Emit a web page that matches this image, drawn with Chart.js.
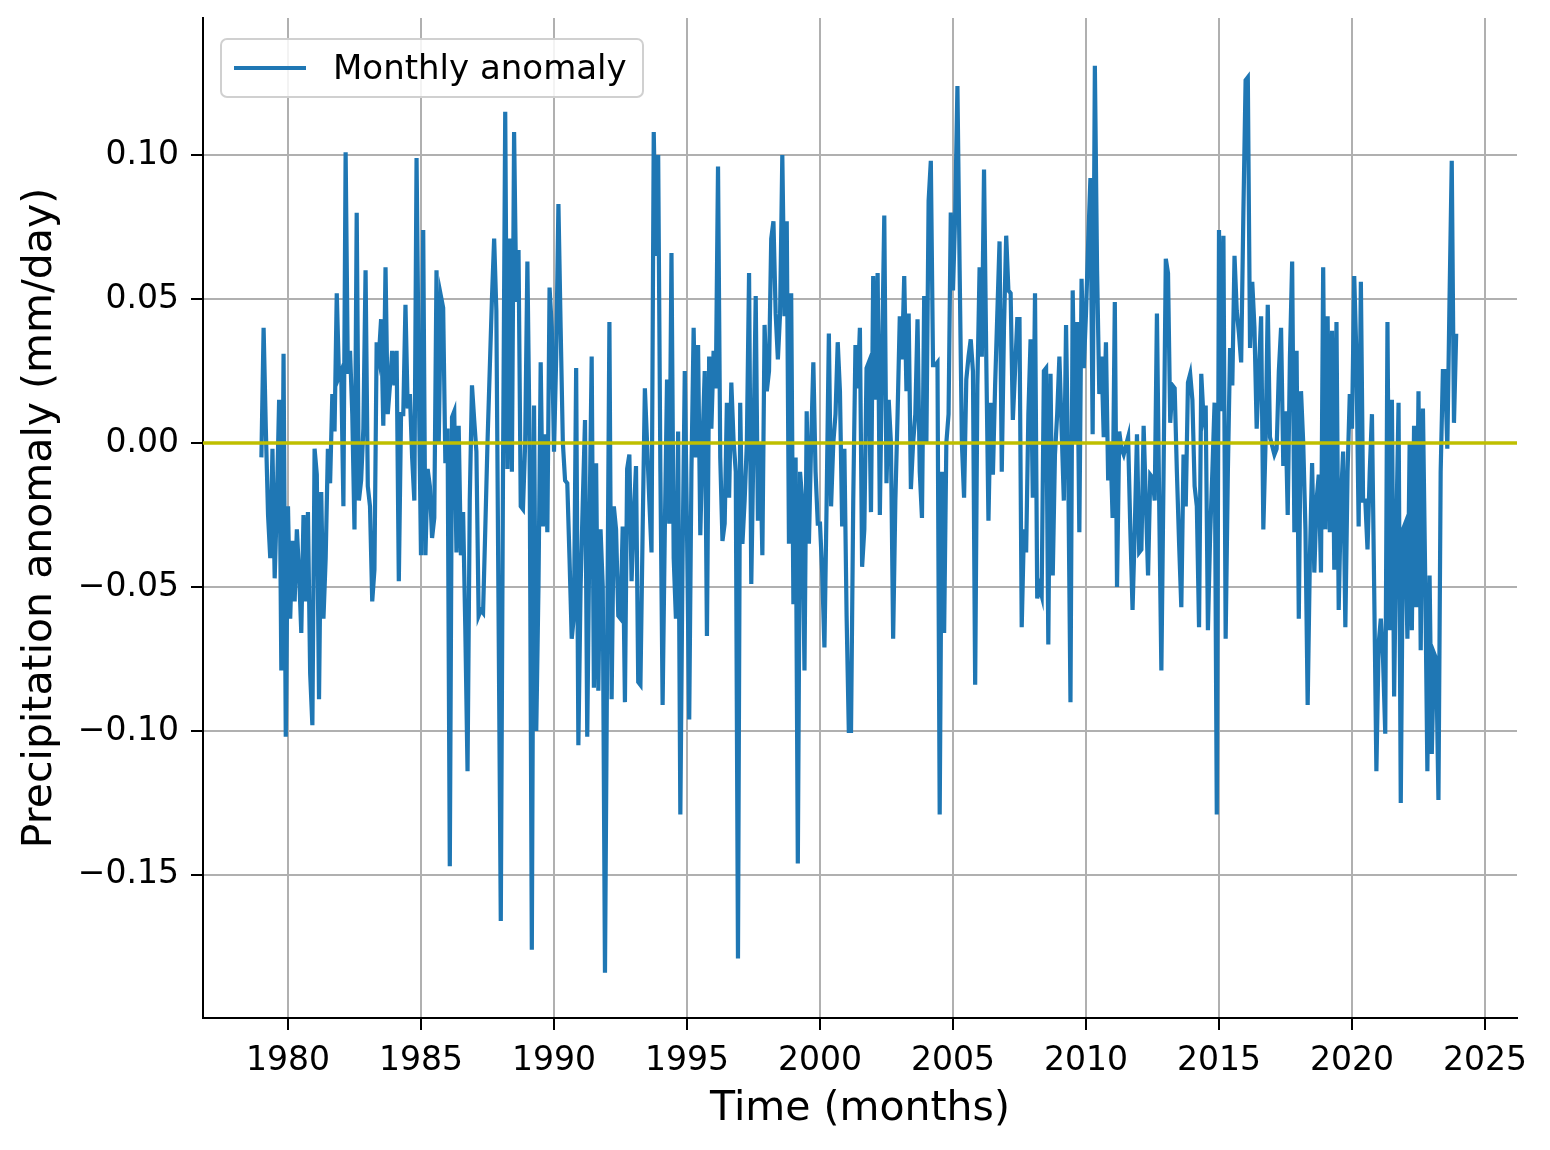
<!DOCTYPE html>
<html>
<head>
<meta charset="utf-8">
<script src="https://cdn.jsdelivr.net/npm/chart.js@4.4.0/dist/chart.umd.min.js"></script>
<style>
  body { margin: 0; background: #fff; }
  #wrap { position: relative; width: 1550px; height: 1150px; }
  #legend {
    position: absolute; left: 220px; top: 38px; width: 420px; height: 56px;
    border: 2px solid #d0d0d0; border-radius: 7px; background: rgba(255,255,255,0.85);
    font-family: "DejaVu Sans", sans-serif; font-size: 34px; color: #000;
  }
  #legend .swatch { position: absolute; left: 12px; top: 26px; width: 72px; height: 4px; background: #1f77b4; }
  #legend .label { position: absolute; left: 111px; top: 7px; white-space: nowrap; }
</style>
</head>
<body>
<div id="wrap">
  <canvas id="anomalyChart" width="1550" height="1150"></canvas>
  <div id="legend"><span class="swatch"></span><span class="label">Monthly anomaly</span></div>
</div>
<script>
// monthly precipitation anomaly (mm/day), Jan..Dec for each year
const startYear = 1979;
const y1979 = [-0.005, 0.040, 0.005, -0.025, -0.040, -0.002, -0.047, -0.020, 0.015, -0.079, 0.031, -0.102];
const y1980 = [-0.022, -0.061, -0.034, -0.055, -0.030, -0.045, -0.066, -0.025, -0.055, -0.024, -0.080, -0.098];
const y1981 = [-0.002, -0.011, -0.089, -0.017, -0.061, -0.040, -0.002, -0.014, 0.017, 0.004, 0.052, 0.023];
const y1982 = [0.025, -0.022, 0.101, 0.024, 0.032, 0.010, -0.030, 0.080, -0.020, -0.013, 0.005, 0.060];
const y1983 = [-0.015, -0.022, -0.055, -0.044, 0.035, 0.030, 0.043, 0.006, 0.061, 0.010, 0.020, 0.032];
const y1984 = [0.020, 0.032, -0.048, 0.010, 0.010, 0.048, 0.012, 0.017, -0.005, -0.020, 0.099, 0.021];
const y1985 = [-0.039, 0.074, -0.039, -0.009, -0.015, -0.033, -0.026, 0.060, 0.000, 0.051, 0.047, -0.007];
const y1986 = [0.005, -0.147, 0.009, 0.011, -0.038, 0.006, -0.039, -0.024, -0.065, -0.114, -0.020, 0.020];
const y1987 = [0.008, -0.003, -0.060, -0.058, -0.059, -0.030, 0.000, 0.025, 0.050, 0.071, 0.046, -0.060];
const y1988 = [-0.166, -0.010, 0.115, -0.009, 0.071, -0.010, 0.108, 0.049, 0.067, -0.022, -0.023, 0.000];
const y1989 = [0.063, 0.000, -0.176, 0.013, -0.100, -0.050, 0.028, -0.029, 0.003, -0.031, 0.054, 0.040];
const y1990 = [-0.003, 0.030, 0.083, 0.040, 0.000, -0.013, -0.014, -0.040, -0.068, -0.060, 0.026, -0.105];
const y1991 = [-0.050, -0.020, 0.008, -0.102, -0.030, 0.030, -0.085, -0.007, -0.086, -0.030, -0.050, -0.184];
const y1992 = [-0.070, 0.042, -0.089, -0.022, -0.030, -0.060, -0.061, -0.029, -0.090, -0.009, -0.004, -0.048];
const y1993 = [-0.025, -0.008, -0.083, -0.084, -0.030, 0.019, 0.000, -0.020, -0.038, 0.108, 0.065, 0.100];
const y1994 = [-0.010, -0.091, -0.030, 0.022, -0.028, 0.066, -0.040, -0.061, 0.004, -0.129, -0.040, 0.025];
const y1995 = [-0.030, -0.096, -0.010, 0.040, -0.005, 0.034, -0.032, 0.000, 0.025, -0.067, 0.030, 0.005];
const y1996 = [0.032, 0.019, 0.096, -0.005, -0.034, -0.028, 0.014, -0.019, 0.021, 0.001, -0.010, -0.179];
const y1997 = [0.014, -0.035, -0.020, 0.000, 0.059, -0.049, 0.000, 0.051, -0.027, 0.000, -0.039, 0.041];
const y1998 = [0.018, 0.025, 0.071, 0.077, 0.045, 0.029, 0.045, 0.100, 0.044, 0.077, -0.035, 0.052];
const y1999 = [-0.056, -0.005, -0.146, -0.010, -0.020, -0.079, 0.011, -0.035, 0.000, 0.028, -0.010, -0.028];
const y2000 = [-0.028, -0.045, -0.071, -0.020, 0.038, -0.022, 0.000, 0.010, 0.035, 0.018, -0.029, -0.002];
const y2001 = [-0.060, -0.100, -0.100, -0.020, 0.034, 0.019, 0.040, -0.043, -0.030, 0.026, 0.028, -0.024];
const y2002 = [0.058, 0.015, 0.059, -0.025, 0.030, 0.079, -0.014, 0.015, 0.000, -0.068, -0.020, 0.010];
const y2003 = [0.044, 0.029, 0.058, 0.018, 0.045, -0.016, 0.000, 0.010, 0.043, -0.010, -0.026, 0.051];
const y2004 = [0.000, 0.084, 0.098, 0.027, 0.027, 0.028, -0.129, -0.010, -0.066, 0.000, 0.010, 0.080];
const y2005 = [0.053, 0.080, 0.124, 0.060, 0.000, -0.019, 0.022, 0.030, 0.036, 0.025, -0.084, 0.020];
const y2006 = [0.061, 0.030, 0.095, 0.030, -0.027, 0.014, -0.011, 0.020, 0.045, 0.070, -0.010, 0.040];
const y2007 = [0.072, 0.053, 0.052, 0.008, 0.025, 0.043, 0.043, -0.064, -0.030, -0.038, 0.010, 0.036];
const y2008 = [-0.019, 0.052, -0.054, -0.050, -0.053, 0.025, 0.026, -0.070, 0.024, -0.046, -0.004, 0.010];
const y2009 = [0.030, 0.005, -0.020, 0.041, -0.010, -0.090, 0.053, 0.000, 0.042, -0.031, 0.057, 0.026];
const y2010 = [0.045, 0.070, 0.092, 0.003, 0.131, 0.060, 0.017, 0.030, 0.002, 0.035, -0.013, 0.000];
const y2011 = [-0.026, 0.049, -0.050, 0.004, -0.002, -0.004, -0.001, 0.002, -0.030, -0.058, -0.030, 0.003];
const y2012 = [-0.038, -0.037, 0.006, -0.020, -0.046, -0.011, -0.012, -0.020, 0.045, -0.020, -0.079, -0.010];
const y2013 = [0.064, 0.059, 0.007, 0.020, 0.019, -0.010, -0.035, -0.057, -0.004, -0.022, 0.021, 0.024];
const y2014 = [0.015, -0.015, -0.022, -0.064, 0.024, 0.009, 0.013, -0.065, -0.032, -0.010, 0.014, -0.129];
const y2015 = [0.074, 0.011, 0.072, -0.068, -0.010, 0.033, 0.020, 0.065, 0.046, 0.038, 0.028, 0.080];
const y2016 = [0.126, 0.127, 0.033, 0.056, 0.040, 0.005, 0.025, 0.044, -0.030, 0.000, 0.048, 0.002];
const y2017 = [-0.001, -0.004, -0.002, 0.025, 0.040, -0.008, 0.011, -0.025, 0.030, 0.063, -0.031, 0.032];
const y2018 = [-0.061, 0.018, 0.000, -0.030, -0.091, -0.040, -0.007, -0.045, -0.020, -0.011, -0.045, 0.061];
const y2019 = [-0.030, 0.044, -0.031, 0.039, -0.044, 0.042, -0.058, -0.020, -0.003, -0.064, -0.010, 0.017];
const y2020 = [0.005, 0.058, 0.030, -0.029, 0.056, -0.020, -0.020, -0.037, -0.010, 0.010, -0.050, -0.114];
const y2021 = [-0.070, -0.061, -0.075, -0.101, 0.042, -0.065, 0.015, -0.088, -0.030, 0.014, -0.125, -0.030];
const y2022 = [-0.028, -0.068, 0.000, -0.065, 0.006, -0.057, 0.018, -0.072, 0.012, -0.045, -0.114, -0.046];
const y2023 = [-0.108, -0.073, -0.075, -0.124, -0.010, 0.025, 0.025, -0.002, 0.050, 0.098, 0.007, 0.038];

const allYears = [y1979, y1980, y1981, y1982, y1983, y1984, y1985, y1986, y1987, y1988,
    y1989, y1990, y1991, y1992, y1993, y1994, y1995, y1996, y1997, y1998,
    y1999, y2000, y2001, y2002, y2003, y2004, y2005, y2006, y2007, y2008,
    y2009, y2010, y2011, y2012, y2013, y2014, y2015, y2016, y2017, y2018,
    y2019, y2020, y2021, y2022, y2023];

const xTicks = [1980, 1985, 1990, 1995, 2000, 2005, 2010, 2015, 2020, 2025];
const yTicks = [-0.15, -0.10, -0.05, 0.00, 0.05, 0.10];
const xMin = 1976.805, xMax = 2026.203;
const yMin = -0.1997, yMax = 0.1476;
const zeroLevel = [0, 0];

const monthlyPoints = [];
allYears.forEach((vals, i) => {
    vals.forEach((v, m) => {
        monthlyPoints.push({ x: startYear + i + m / 12, y: v });
    });
});

const font = "'DejaVu Sans', sans-serif";

const ctx = document.getElementById("anomalyChart");
const chart = new Chart(ctx, {
    type: "line",
    data: {
        datasets: [
            {
                label: "zero",
                data: [{ x: xMin, y: zeroLevel[0] }, { x: xMax, y: zeroLevel[1] }],
                borderColor: "#bfbf00",
                borderWidth: 3.5,
                pointRadius: 0,
                order: 0
            },
            {
                label: "Monthly anomaly",
                data: monthlyPoints,
                borderColor: "#1f77b4",
                backgroundColor: "#1f77b4",
                borderWidth: 4.2,
                pointRadius: 0,
                tension: 0,
                order: 1
            }
        ]
    },
    options: {
        responsive: false,
        animation: false,
        layout: { padding: { left: 0, right: 33, top: 18, bottom: 0 } },
        plugins: {
            legend: { display: false },
            tooltip: { enabled: false }
        },
        scales: {
            x: {
                type: "linear",
                min: xMin,
                max: xMax,
                afterBuildTicks: (scale) => { scale.ticks = xTicks.map(v => ({ value: v })); },
                afterFit: (scale) => {
                    scale.height = 132;
                    scale.paddingLeft = 0;
                    scale.paddingRight = 0;
                },
                ticks: {
                    font: { family: font, size: 33 },
                    color: "#000",
                    padding: 12,
                    maxRotation: 0,
                    callback: (v) => String(v)
                },
                grid: { color: "#b0b0b0", lineWidth: 2, tickColor: "#000", tickLength: 12, tickWidth: 2 },
                border: { color: "#000", width: 2 },
                title: {
                    display: true,
                    text: "Time (months)",
                    font: { family: font, size: 41 },
                    color: "#000",
                    padding: { top: 0, bottom: 16 }
                }
            },
            y: {
                type: "linear",
                min: yMin,
                max: yMax,
                afterBuildTicks: (scale) => { scale.ticks = yTicks.map(v => ({ value: v })); },
                afterFit: (scale) => {
                    scale.width = 203;
                    scale.paddingTop = 0;
                    scale.paddingBottom = 0;
                },
                ticks: {
                    font: { family: font, size: 33 },
                    color: "#000",
                    padding: 12,
                    callback: (v) => v.toFixed(2).replace("-", "\u2212")
                },
                grid: { color: "#b0b0b0", lineWidth: 2, tickColor: "#000", tickLength: 12, tickWidth: 2 },
                border: { color: "#000", width: 2 },
                title: {
                    display: true,
                    text: "Precipitation anomaly (mm/day)",
                    font: { family: font, size: 41 },
                    color: "#000",
                    padding: { top: 16, bottom: 0 }
                }
            }
        }
    }
});
</script>
</body>
</html>
